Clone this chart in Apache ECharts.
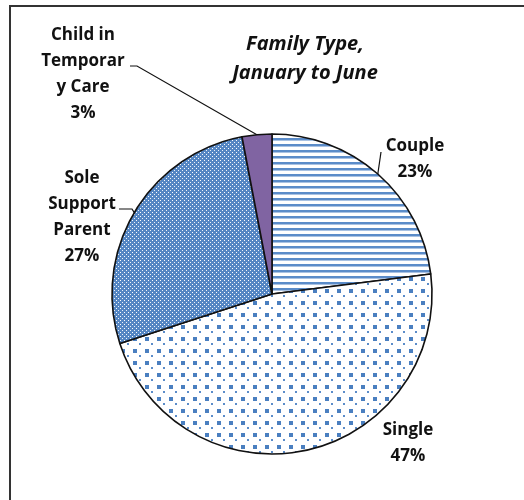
<!DOCTYPE html>
<html>
<head>
<meta charset="utf-8">
<script src="https://cdn.jsdelivr.net/npm/echarts@6/dist/echarts.min.js"></script>
<style>
html,body{margin:0;padding:0;background:#fff;}
#chart{width:524px;height:500px;}
</style>
</head>
<body>
<div id="chart"></div>
<script>
// ---- data ----
var categories = ['Couple', 'Single', 'Sole Support Parent', 'Child in Temporary Care'];
var values = [23, 47, 27, 3];
var labelTexts = ['Couple', 'Single', 'Sole\nSupport\nParent', 'Child in\nTemporar\ny Care'];

// ---- pattern helpers (styles) ----
function makeTile(w, h, draw) {
  var c = document.createElement('canvas');
  c.width = w; c.height = h;
  var ctx = c.getContext('2d');
  draw(ctx);
  return c;
}
var stripeTile = makeTile(6, 6, function (ctx) {
  ctx.fillStyle = '#ffffff'; ctx.fillRect(0, 0, 6, 6);
  ctx.fillStyle = '#5b8cc9'; ctx.fillRect(0, 0, 6, 2);
  ctx.fillStyle = '#a9c2e3'; ctx.fillRect(0, 2, 6, 1);
});
var dotTile = makeTile(12, 12, function (ctx) {
  ctx.fillStyle = '#ffffff'; ctx.fillRect(0, 0, 12, 12);
  ctx.fillStyle = '#4a7fc0'; ctx.fillRect(1, 1, 4, 4);
  ctx.fillStyle = '#5b8cc9'; ctx.fillRect(7, 7, 2, 2);
});
var speckTile = makeTile(4, 4, function (ctx) {
  ctx.fillStyle = '#5586c3'; ctx.fillRect(0, 0, 4, 4);
  ctx.fillStyle = '#ffffff'; ctx.fillRect(0, 0, 1, 1);
  ctx.fillStyle = 'rgba(255,255,255,0.9)'; ctx.fillRect(2, 2, 1, 1);
});
var fills = [
  { image: stripeTile, repeat: 'repeat' },
  { image: dotTile, repeat: 'repeat' },
  { image: speckTile, repeat: 'repeat' },
  '#8064a2'
];

// label layout (positions of label text blocks, in px)
var labelPlace = [
  { x: 415, y: 159, line: [[381, 152], [381, 152]] },
  { x: 408, y: 443, line: null },
  { x: 82, y: 217, line: [[132, 209], [119, 209]] },
  { x: 83, y: 74, line: [[137, 66], [130, 66]] }
];

var chart = echarts.init(document.getElementById('chart'), null, { renderer: 'canvas' });
var option = {
  backgroundColor: '#ffffff',
  animation: false,
  title: {
    text: 'Family Type,\nJanuary to June',
    left: 300,
    top: 25,
    textAlign: 'center',
    textStyle: {
      fontFamily: 'Open Sans',
      fontWeight: 'bold',
      fontStyle: 'italic',
      fontSize: 20,
      lineHeight: 29,
      color: '#111'
    }
  },
  graphic: [{
    type: 'rect',
    shape: { x: 10, y: 6, width: 600, height: 600 },
    style: { fill: 'none', stroke: '#333', lineWidth: 2 },
    silent: true
  }],
  series: [{
    type: 'pie',
    center: [272, 294],
    radius: 160,
    startAngle: 90,
    clockwise: true,
    data: categories.map(function (name, i) {
      return {
        name: name,
        value: values[i],
        itemStyle: { color: fills[i] },
        labelLine: { show: labelPlace[i].line !== null }
      };
    }),
    itemStyle: { borderColor: '#111', borderWidth: 1.6 },
    label: {
      show: true,
      position: 'outside',
      formatter: function (p) { return labelTexts[p.dataIndex] + '\n' + p.value + '%'; },
      fontFamily: 'Open Sans',
      fontWeight: 'bold',
      fontSize: 17,
      lineHeight: 26,
      color: '#111',
      align: 'center'
    },
    labelLine: {
      show: true,
      lineStyle: { color: '#111', width: 1.2 }
    },
    labelLayout: function (params) {
      var lp = labelPlace[params.dataIndex];
      var res = { x: lp.x, y: lp.y, align: 'center', verticalAlign: 'middle' };
      if (lp.line && params.labelLinePoints) {
        res.labelLinePoints = [params.labelLinePoints[0], lp.line[0], lp.line[1]];
      }
      return res;
    },
    emphasis: { disabled: true }
  }]
};
chart.setOption(option);
</script>
</body>
</html>
